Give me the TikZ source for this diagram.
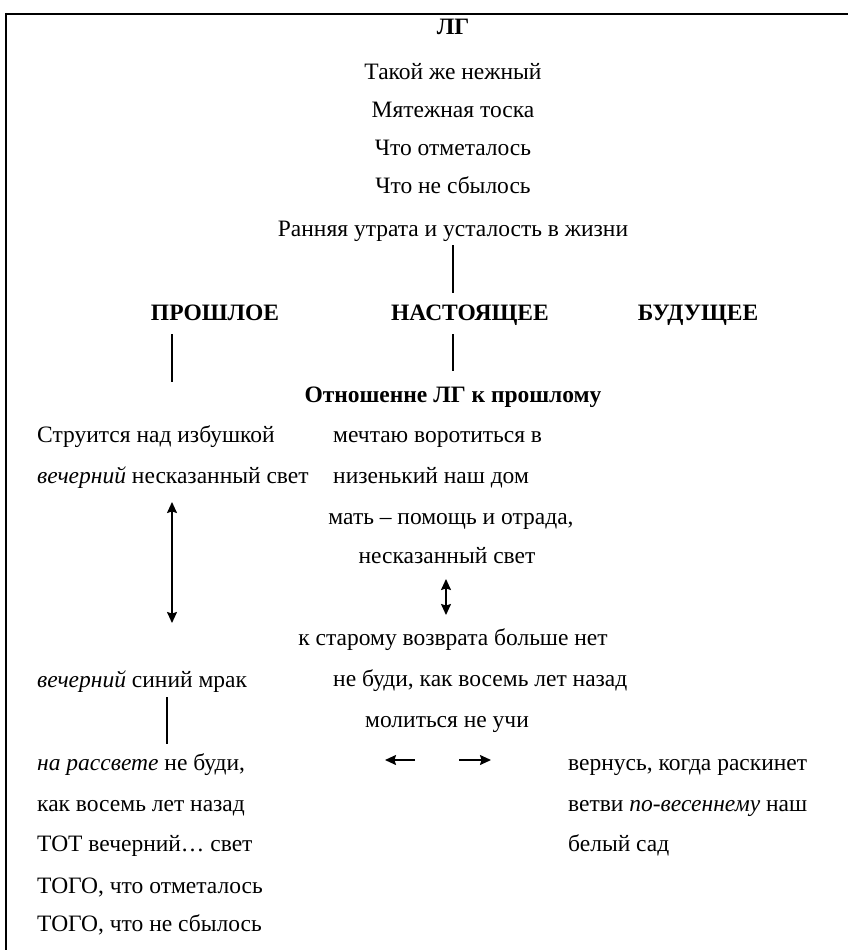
\documentclass[tikz,border=0pt]{standalone}
\usepackage{fontspec}
\setmainfont{Liberation Serif}
\usetikzlibrary{arrows.meta}
\begin{document}
\begin{tikzpicture}[x=1pt,y=-1pt,
  txt/.style={inner sep=0pt,anchor=base,font=\fontsize{23.5}{27}\selectfont},
  lt/.style={txt,anchor=base west},
  hd/.style={txt,font=\fontsize{23.5}{27}\selectfont\bfseries},
  conn/.style={line width=1.3pt},
  arr/.style={line width=1.4pt,{Stealth[length=11pt,width=10pt,inset=1.5pt]}-{Stealth[length=11pt,width=10pt,inset=1.5pt]}},
  sarr/.style={line width=1.4pt,-{Stealth[length=11pt,width=10pt,inset=1.5pt]}}]
\useasboundingbox (0,0) rectangle (848,950);
\draw[line width=2.4pt] (5,14) -- (848,14);
\draw[line width=2pt] (6,13) -- (6,950);
% top block
\node[hd] (lg) at (453,35) {ЛГ};
\node[txt] (t1) at (453,80) {Такой же нежный};
\node[txt] (t2) at (453,117) {Мятежная тоска};
\node[txt] (t3) at (453,155) {Что отметалось};
\node[txt] (t4) at (453,193) {Что не сбылось};
\node[txt] (t5) at (453,236) {Ранняя утрата и усталость в жизни};
% headings
\node[hd] (past) at (215,320) {ПРОШЛОЕ};
\node[hd] (pres) at (470,320) {НАСТОЯЩЕЕ};
\node[hd] (fut) at (698,320) {БУДУЩЕЕ};
\coordinate (c1a) at (453,245); \coordinate (c1b) at (453,293);
\draw[conn] (c1a) -- (c1b);
\coordinate (c2a) at (172,334); \coordinate (c2b) at (172,382);
\draw[conn] (c2a) -- (c2b);
\coordinate (c3a) at (453,334); \coordinate (c3b) at (453,371);
\draw[conn] (c3a) -- (c3b);
\node[hd] (rel) at (453,402) {Отношенне ЛГ к прошлому};
% left column
\node[lt] (l1) at (37,442) {Струится над избушкой};
\node[lt] (l2) at (37,483) {\textit{вечерний} несказанный свет};
\node[lt] (l3) at (37,687) {\textit{вечерний} синий мрак};
\node[lt] (l4) at (37,770) {\textit{на рассвете} не буди,};
\node[lt] (l5) at (37,811) {как восемь лет назад};
\node[lt] (l6) at (37,851) {ТОТ вечерний… свет};
\node[lt] (l7) at (37,893) {ТОГО, что отметалось};
\node[lt] (l8) at (37,931) {ТОГО, что не сбылось};
% middle column
\node[lt] (m1) at (333,442) {мечтаю воротиться в};
\node[lt] (m2) at (333,483) {низенький наш дом};
\node[txt] (m3) at (451,524) {мать – помощь и отрада,};
\node[txt] (m4) at (447,563) {несказанный свет};
\node[txt] (m5) at (453,645) {к старому возврата больше нет};
\node[lt] (m6) at (333,686) {не буди, как восемь лет назад};
\node[txt] (m7) at (447,727) {молиться не учи};
% right column
\node[lt] (r1) at (568,770) {вернусь, когда раскинет};
\node[lt] (r2) at (568,811) {ветви \textit{по-весеннему} наш};
\node[lt] (r3) at (568,851) {белый сад};
% arrows
\coordinate (a1a) at (172,502); \coordinate (a1b) at (172,623);
\draw[arr] (a1a) -- (a1b);
\coordinate (a2a) at (446,579); \coordinate (a2b) at (446,615);
\draw[arr] (a2a) -- (a2b);
\coordinate (v1a) at (167,697); \coordinate (v1b) at (167,744);
\draw[conn] (v1a) -- (v1b);
\coordinate (la) at (415,760); \coordinate (lb) at (385,760);
\draw[sarr] (la) -- (lb);
\coordinate (ra) at (459,760); \coordinate (rb) at (491,760);
\draw[sarr] (ra) -- (rb);
\end{tikzpicture}
\end{document}
